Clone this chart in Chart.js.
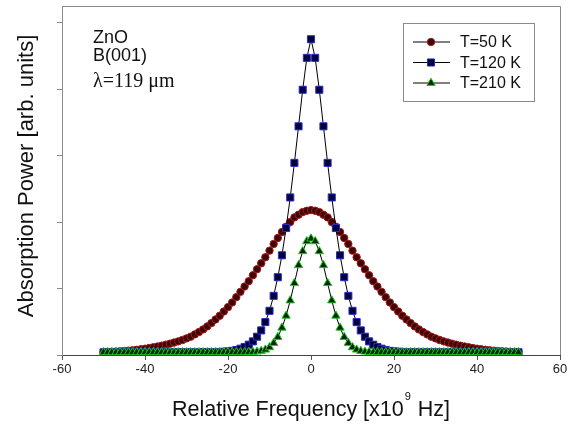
<!DOCTYPE html>
<html>
<head>
<meta charset="utf-8">
<script src="https://cdn.jsdelivr.net/npm/chart.js@4.4.1/dist/chart.umd.min.js"></script>
<style>
  html, body { margin: 0; padding: 0; background: #fff; }
  #wrap { width: 578px; height: 430px; }
</style>
</head>
<body>
<div id="wrap"><canvas id="chart" width="578" height="430"></canvas></div>
<script>
// relative frequency, x10^9 Hz
const freq = [
  -50, -49, -48, -47, -46, -45, -44, -43, -42, -41,
  -40, -39, -38, -37, -36, -35, -34, -33, -32, -31,
  -30, -29, -28, -27, -26, -25, -24, -23, -22, -21,
  -20, -19, -18, -17, -16, -15, -14, -13, -12, -11,
  -10, -9, -8, -7, -6, -5, -4, -3, -2, -1,
  0,
  1, 2, 3, 4, 5, 6, 7, 8, 9, 10,
  11, 12, 13, 14, 15, 16, 17, 18, 19, 20,
  21, 22, 23, 24, 25, 26, 27, 28, 29, 30,
  31, 32, 33, 34, 35, 36, 37, 38, 39, 40,
  41, 42, 43, 44, 45, 46, 47, 48, 49, 50
]

// absorption power (arb. units)
const t50 = [
  0.044, 0.046, 0.049, 0.052, 0.056, 0.06, 0.065, 0.071, 0.078, 0.086,
  0.095, 0.105, 0.116, 0.128, 0.14, 0.155, 0.17, 0.187, 0.205, 0.225,
  0.25, 0.275, 0.31, 0.345, 0.385, 0.43, 0.48, 0.535, 0.59, 0.655,
  0.72, 0.79, 0.87, 0.95, 1.03, 1.11, 1.20, 1.29, 1.38, 1.47,
  1.57, 1.67, 1.76, 1.85, 1.93, 2.00, 2.07, 2.11, 2.15, 2.17,
  2.18,
  2.17, 2.15, 2.11, 2.07, 2.00, 1.93, 1.85, 1.76, 1.67, 1.57,
  1.47, 1.38, 1.29, 1.20, 1.11, 1.03, 0.95, 0.87, 0.79, 0.72,
  0.655, 0.59, 0.535, 0.48, 0.43, 0.385, 0.345, 0.31, 0.275, 0.25,
  0.225, 0.205, 0.187, 0.17, 0.155, 0.14, 0.128, 0.116, 0.105, 0.095,
  0.086, 0.078, 0.071, 0.065, 0.06, 0.056, 0.052, 0.049, 0.046, 0.044
]

const t120 = [
  0.04, 0.04, 0.04, 0.04, 0.04, 0.04, 0.04, 0.04, 0.04, 0.04,
  0.04, 0.04, 0.04, 0.04, 0.04, 0.04, 0.04, 0.04, 0.04, 0.04,
  0.04, 0.04, 0.04, 0.041, 0.041, 0.042, 0.043, 0.044, 0.046, 0.049,
  0.054, 0.062, 0.075, 0.095, 0.12, 0.155, 0.205, 0.275, 0.37, 0.495,
  0.665, 0.89, 1.17, 1.50, 1.91, 2.37, 2.89, 3.44, 3.99, 4.47,
  4.75,
  4.47, 3.99, 3.44, 2.89, 2.37, 1.91, 1.50, 1.17, 0.89, 0.665,
  0.495, 0.37, 0.275, 0.205, 0.155, 0.12, 0.095, 0.075, 0.062, 0.054,
  0.049, 0.046, 0.044, 0.043, 0.042, 0.041, 0.041, 0.04, 0.04, 0.04,
  0.04, 0.04, 0.04, 0.04, 0.04, 0.04, 0.04, 0.04, 0.04, 0.04,
  0.04, 0.04, 0.04, 0.04, 0.04, 0.04, 0.04, 0.04, 0.04, 0.04
]

const t210 = [
  0.04, 0.04, 0.04, 0.04, 0.04, 0.04, 0.04, 0.04, 0.04, 0.04,
  0.04, 0.04, 0.04, 0.04, 0.04, 0.04, 0.04, 0.04, 0.04, 0.04,
  0.04, 0.04, 0.04, 0.04, 0.04, 0.04, 0.04, 0.04, 0.04, 0.04,
  0.04, 0.04, 0.04, 0.04, 0.041, 0.042, 0.045, 0.05, 0.06, 0.08,
  0.115, 0.18, 0.27, 0.41, 0.59, 0.82, 1.08, 1.35, 1.56, 1.71,
  1.75,
  1.71, 1.56, 1.35, 1.08, 0.82, 0.59, 0.41, 0.27, 0.18, 0.115,
  0.08, 0.06, 0.05, 0.045, 0.042, 0.041, 0.04, 0.04, 0.04, 0.04,
  0.04, 0.04, 0.04, 0.04, 0.04, 0.04, 0.04, 0.04, 0.04, 0.04,
  0.04, 0.04, 0.04, 0.04, 0.04, 0.04, 0.04, 0.04, 0.04, 0.04,
  0.04, 0.04, 0.04, 0.04, 0.04, 0.04, 0.04, 0.04, 0.04, 0.04
]

const seriesLabels = ['T=50 K', 'T=120 K', 'T=210 K']
const noteLines = ['ZnO', 'B(001)', 'λ=119 μm']

const FONT = "Arial, 'Liberation Sans', sans-serif"

function toPoints(values){
    return values.map((v, i) => ({x: freq[i], y: v}))
}

const styles = [
    {pointStyle: 'circle', radius: 3.7, fill: '#3e0606', edge: '#a81818', order: 3},
    {pointStyle: 'rect', radius: 5, fill: '#00003c', edge: '#2a2ac8', order: 2},
    {pointStyle: 'triangle', radius: 4.8, fill: '#002800', edge: '#1ec81e', order: 1}
]

const datasets = [t50, t120, t210].map(function(values, i){
    const s = styles[i]
    return {
        label: seriesLabels[i],
        data: toPoints(values),
        borderColor: '#000',
        borderWidth: 1,
        pointStyle: s.pointStyle,
        pointRadius: s.radius,
        pointBackgroundColor: s.fill,
        pointBorderColor: s.edge,
        pointBorderWidth: 1,
        tension: 0,
        order: s.order
    }
})

/* text, legend box and frame drawn on top */
const overlay = {
    id: 'overlay',
    afterDraw(chart){
        const ctx = chart.ctx
        const a = chart.chartArea
        ctx.save()

        // top and right frame
        ctx.strokeStyle = '#8a8a8a'
        ctx.lineWidth = 1
        ctx.beginPath()
        ctx.moveTo(a.left, a.top + 0.5)
        ctx.lineTo(a.right + 0.5, a.top + 0.5)
        ctx.lineTo(a.right + 0.5, a.bottom)
        ctx.stroke()

        // legend box
        ctx.fillStyle = '#fff'
        ctx.fillRect(403, 23, 131, 78)
        ctx.strokeStyle = '#8a8a8a'
        ctx.strokeRect(403.5, 23.5, 131, 78)
        const rowY = [42, 62.5, 83]
        seriesLabels.forEach(function(label, i){
            const s = styles[i]
            ctx.strokeStyle = '#000'
            ctx.lineWidth = 1
            ctx.beginPath()
            ctx.moveTo(413, rowY[i])
            ctx.lineTo(450, rowY[i])
            ctx.stroke()
            ctx.fillStyle = s.fill
            ctx.strokeStyle = s.edge
            Chart.helpers.drawPoint(ctx, {pointStyle: s.pointStyle, radius: s.radius, rotation: 0, borderWidth: 1}, 431, rowY[i])
            ctx.fillStyle = '#111'
            ctx.font = '16px ' + FONT
            ctx.textBaseline = 'middle'
            ctx.textAlign = 'left'
            ctx.fillText(label, 460, rowY[i] + 1)
        })

        // sample notes
        ctx.fillStyle = '#111'
        ctx.textBaseline = 'middle'
        ctx.textAlign = 'left'
        ctx.font = '18px ' + FONT
        ctx.fillText(noteLines[0], 93, 38)
        ctx.fillText(noteLines[1], 93, 56)
        ctx.font = "20px 'Liberation Serif', 'Times New Roman', serif"
        ctx.fillText(noteLines[2], 93, 82)

        // y title
        ctx.font = '22px ' + FONT
        ctx.fillStyle = '#111'
        ctx.save()
        ctx.translate(27, 176)
        ctx.rotate(-Math.PI / 2)
        ctx.textAlign = 'center'
        ctx.fillText('Absorption Power [arb. units]', 0, 0)
        ctx.restore()

        // x title with superscript
        const partA = 'Relative Frequency [x10'
        const sup = '9'
        const partB = ' Hz]'
        ctx.font = '21.5px ' + FONT
        const wA = ctx.measureText(partA).width
        const wB = ctx.measureText(partB).width
        ctx.font = '11px ' + FONT
        const wS = ctx.measureText(sup).width + 2
        const total = wA + wS + wB
        let x = 311 - total / 2
        const y = 410
        ctx.textAlign = 'left'
        ctx.font = '21.5px ' + FONT
        ctx.fillText(partA, x, y)
        ctx.font = '11px ' + FONT
        ctx.fillText(sup, x + wA + 1, y - 13)
        ctx.font = '21.5px ' + FONT
        ctx.fillText(partB, x + wA + wS, y)

        ctx.restore()
    }
}

const ctx = document.getElementById('chart').getContext('2d')
const chart = new Chart(ctx, {
    type: 'line',
    data: { datasets: datasets },
    options: {
        responsive: false,
        animation: false,
        layout: { padding: { top: 5, right: 18, left: 0, bottom: 0 } },
        plugins: {
            legend: { display: false },
            tooltip: { enabled: false }
        },
        scales: {
            x: {
                type: 'linear',
                min: -60,
                max: 60,
                ticks: {
                    stepSize: 20,
                    color: '#222',
                    font: { family: FONT, size: 13 },
                    padding: 2,
                    maxRotation: 0
                },
                grid: {
                    drawOnChartArea: false,
                    drawTicks: true,
                    tickLength: 5,
                    color: '#555'
                },
                border: { color: '#444', width: 1 },
                afterFit(scale){ scale.height = 75 }
            },
            y: {
                type: 'linear',
                min: 0,
                max: 5.25,
                ticks: {
                    stepSize: 1,
                    includeBounds: false,
                    display: false
                },
                grid: {
                    drawOnChartArea: false,
                    drawTicks: true,
                    tickLength: 5,
                    color: '#888'
                },
                border: { color: '#8a8a8a', width: 1 },
                afterFit(scale){ scale.width = 62 }
            }
        }
    },
    plugins: [overlay]
})
</script>
</body>
</html>
